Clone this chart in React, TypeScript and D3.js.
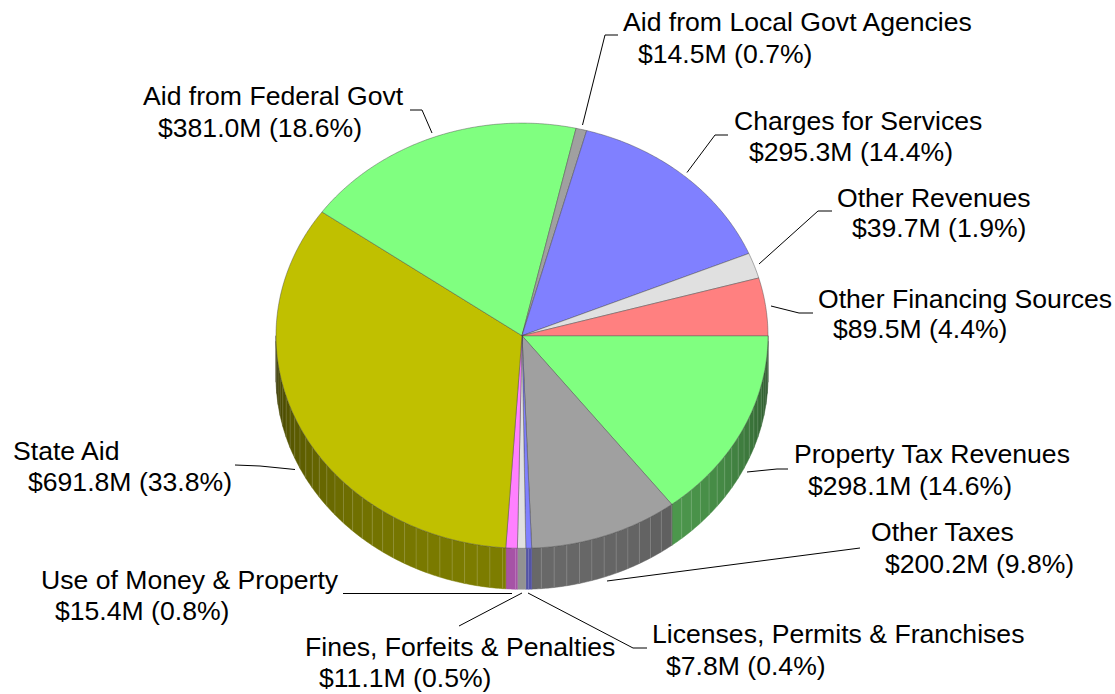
import React from 'react';
import * as d3 from 'd3';

const categories = ['Property Tax Revenues','Other Taxes','Licenses, Permits & Franchises','Fines, Forfeits & Penalties','Use of Money & Property','State Aid','Aid from Federal Govt','Aid from Local Govt Agencies','Charges for Services','Other Revenues','Other Financing Sources'];
const amounts = [298.1,200.2,7.8,11.1,15.4,691.8,381.0,14.5,295.3,39.7,89.5];
const percents = ['14.6','9.8','0.4','0.5','0.8','33.8','18.6','0.7','14.4','1.9','4.4'];
const colors = ['#80ff80','#a0a0a0','#8080ff','#e0e0e0','#ff80ff','#c0c000','#80ff80','#a0a0a0','#8080ff','#e0e0e0','#ff8080'];

const labelLayout: {x1:number;x2:number;y1:number;y2:number;leader:[number,number][]}[] = [
  {x1:794,x2:808,y1:463,y2:495,leader:[[747,472],[777,469],[788,469]]},
  {x1:871,x2:885,y1:541,y2:573,leader:[[607,581],[860,548]]},
  {x1:652,x2:666,y1:643,y2:675,leader:[[528,593],[633,648],[647,648]]},
  {x1:305,x2:319,y1:656,y2:687,leader:[[522,593],[459,626]]},
  {x1:41,x2:55,y1:589,y2:620,leader:[[343,593.5],[512,593.5]]},
  {x1:13,x2:28,y1:460,y2:491,leader:[[295,469.5],[260,466],[235,465]]},
  {x1:143,x2:158,y1:105,y2:137,leader:[[432,133],[422,110],[410,110]]},
  {x1:623,x2:638,y1:31,y2:63,leader:[[582.5,125],[605,35],[618,35]]},
  {x1:734,x2:749,y1:130,y2:161,leader:[[687,172.5],[715,135],[728,135]]},
  {x1:837,x2:852,y1:207,y2:237,leader:[[759,264],[818,211],[832,211]]},
  {x1:818,x2:833,y1:308,y2:338,leader:[[771,306],[799,313],[813,313]]},
];

const W = 1115, H = 694;
const cx = 522, cy = 335.7, rx = 246, ry = 212.6, depth = 41;
const FONT = '"Liberation Sans", Arial, sans-serif';

const pieGen = d3.pie<number>().value(d => d).sort(null).startAngle(Math.PI/2).endAngle(Math.PI*2.5);
const arcs = pieGen(amounts);
const pt = (a:number, dy=0):[number,number] => [cx + rx*Math.sin(a), cy - ry*Math.cos(a) + dy];
const STEP = (3*Math.PI)/180;
const OFFSET = Math.PI/2 + (1.5*Math.PI)/180;
const lineGen = d3.line();

function sliceTop(start:number,end:number){
  const n = Math.max(2, Math.ceil((end-start)/0.01));
  const pts:[number,number][] = [[cx,cy]];
  for(let i=0;i<=n;i++) pts.push(pt(start+(end-start)*i/n));
  return lineGen(pts)+'Z';
}
function shade(col:string,a:number){
  const f = 0.2 + 0.45*Math.pow(Math.max(0,-Math.cos(a)),0.55);
  const c = d3.rgb(col);
  return d3.rgb(c.r*f,c.g*f,c.b*f).formatHex();
}

function Walls(){
  const out:React.ReactNode[] = [];
  arcs.forEach((d,i)=>{
    const s = Math.max(d.startAngle, Math.PI/2), e = Math.min(d.endAngle, Math.PI*1.5);
    if(e<=s) return;
    const k0 = Math.floor((s-OFFSET)/STEP), k1 = Math.ceil((e-OFFSET)/STEP);
    for(let k=k0;k<k1;k++){
      const a0 = Math.max(s, OFFSET+k*STEP), a1 = Math.min(e, OFFSET+(k+1)*STEP);
      const mid=(a0+a1)/2;
      const n=6; const top:[number,number][]=[]; const bot:[number,number][]=[];
      for(let j=0;j<=n;j++){const a=a0+(a1-a0)*j/n; top.push(pt(a)); bot.unshift(pt(a,depth));}
      const col=shade(colors[i],mid);
      out.push(<path key={i+'-'+k} d={lineGen([...top,...bot])+'Z'} fill={col} stroke={col} strokeWidth={0.5}/>);
    }
    for(let k=k0+1;k<k1;k++){
      const a=OFFSET+k*STEP; const p=pt(a), q=pt(a,depth);
      if(a<=s||a>=e) continue;
      out.push(<line key={i+'s'+k} x1={p[0]} y1={p[1]} x2={q[0]} y2={q[1]} stroke="#ffffff" strokeOpacity={0.15} strokeWidth={1}/>);
    }
  });
  return <g>{out}</g>;
}

export default function App(){
  return (
    <svg width={W} height={H} style={{position:'absolute',left:0,top:0,background:'#fff'}} fontFamily={FONT}>
      <Walls/>
      {arcs.map((d,i)=>(
        <path key={i} d={sliceTop(d.startAngle,d.endAngle)} fill={colors[i]} stroke="#404040" strokeOpacity={0.7} strokeWidth={0.6}/>
      ))}
      {categories.map((c,i)=>{
        const l=labelLayout[i];
        return <g key={c}>
          <path d={lineGen(l.leader)!} fill="none" stroke="#000" strokeWidth={1}/>
          <text x={l.x1} y={l.y1} fontSize={26.6} fill="#000">{c}</text>
          <text x={l.x2} y={l.y2} fontSize={26.6} fill="#000">{`$${amounts[i].toFixed(1)}M (${percents[i]}%)`}</text>
        </g>;
      })}
    </svg>
  );
}
